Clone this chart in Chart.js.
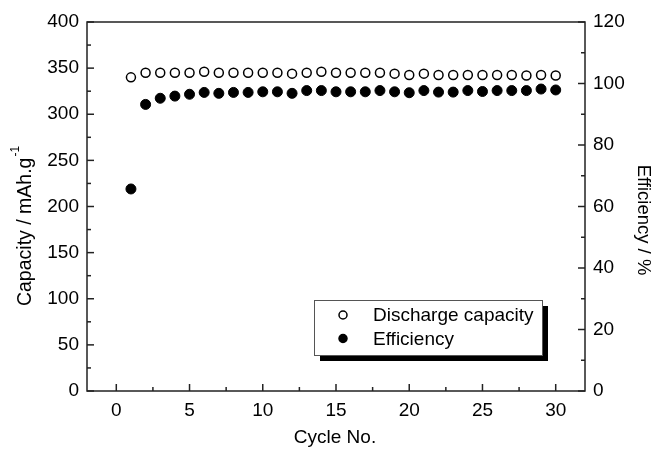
<!DOCTYPE html>
<html>
<head>
<meta charset="utf-8">
<script src="https://cdn.jsdelivr.net/npm/chart.js@4.4.0/dist/chart.umd.min.js"></script>
<style>
  body { margin: 0; background: #fff; }
  #wrap { width: 656px; height: 449px; }
</style>
</head>
<body>
<div id="wrap"><canvas id="cycleChart" width="656" height="449"></canvas></div>
<script>
// values
const cycles = [1, 2, 3, 4, 5, 6, 7, 8, 9, 10, 11, 12, 13, 14, 15,
  16, 17, 18, 19, 20, 21, 22, 23, 24, 25, 26, 27, 28, 29, 30];
const dischargeCapacity = [340, 345, 345, 345, 345, 346, 345, 345, 345, 345, 345, 344, 345, 346, 345,
  345, 345, 345, 344, 342.5, 344, 342.5, 342.5, 342.5, 342.5, 342.5, 342.5, 342, 342.5, 342];
const efficiency = [65.7, 93.2, 95.2, 95.9, 96.5, 97.1, 96.8, 97.1, 97.1, 97.3, 97.3, 96.8, 97.7, 97.7, 97.3,
  97.3, 97.3, 97.7, 97.3, 97.0, 97.7, 97.2, 97.2, 97.7, 97.4, 97.7, 97.7, 97.7, 98.2, 97.9];

const xTicks = [0, 5, 10, 15, 20, 25, 30];
const capacityTicks = [0, 50, 100, 150, 200, 250, 300, 350, 400];
const efficiencyTicks = [0, 20, 40, 60, 80, 100, 120];
const seriesLabels = ['Discharge capacity', 'Efficiency'];

const FONT = '"Liberation Sans", Arial, sans-serif';

const toPoints = (ys) => cycles.map((c, i) => ({ x: c, y: ys[i] }));

// frame + inward ticks (major and minor)
const frameTicks = {
  id: 'frameTicks',
  afterDraw(chart) {
    const { ctx, chartArea: a, scales } = chart;
    ctx.save();
    ctx.strokeStyle = '#222';
    ctx.lineWidth = 1.5;
    ctx.strokeRect(a.left, a.top, a.right - a.left, a.bottom - a.top);

    const line = (x1, y1, x2, y2) => {
      ctx.beginPath(); ctx.moveTo(x1, y1); ctx.lineTo(x2, y2); ctx.stroke();
    };
    const doTicks = (scale, ticks, draw) => {
      const step = ticks[1] - ticks[0];
      ticks.forEach(v => draw(scale.getPixelForValue(v), 7));
      ticks.forEach(v => {
        const m = v + step / 2;
        if (m > scale.min && m < scale.max) draw(scale.getPixelForValue(m), 4);
      });
    };
    doTicks(scales.x, xTicks, (px, len) => line(px, a.bottom, px, a.bottom - len));
    doTicks(scales.y, capacityTicks, (py, len) => line(a.left, py, a.left + len, py));
    doTicks(scales.y2, efficiencyTicks, (py, len) => line(a.right, py, a.right - len, py));
    ctx.restore();
  }
};

// axis titles
const axisTitles = {
  id: 'axisTitles',
  afterDraw(chart) {
    const { ctx } = chart;
    ctx.save();
    ctx.fillStyle = '#000';
    ctx.font = '19px ' + FONT;
    ctx.textAlign = 'center';
    ctx.textBaseline = 'middle';
    ctx.fillText('Cycle No.', 335, 438);

    // left: Capacity / mAh.g^-1
    const main = 'Capacity / mAh.g';
    const sup = '-1';
    ctx.font = '19.5px ' + FONT;
    const wMain = ctx.measureText(main).width;
    ctx.font = '12px ' + FONT;
    const wSup = ctx.measureText(sup).width;
    const total = wMain + wSup + 1;
    ctx.translate(26, 226);
    ctx.rotate(-Math.PI / 2);
    ctx.textAlign = 'left';
    ctx.font = '19.5px ' + FONT;
    ctx.fillText(main, -total / 2, 0);
    ctx.font = '12px ' + FONT;
    ctx.fillText(sup, -total / 2 + wMain + 1, -10);
    ctx.restore();

    ctx.save();
    ctx.fillStyle = '#000';
    ctx.font = '18.5px ' + FONT;
    ctx.textAlign = 'center';
    ctx.textBaseline = 'middle';
    ctx.translate(643, 220);
    ctx.rotate(Math.PI / 2);
    ctx.fillText('Efficiency / %', 0, 0);
    ctx.restore();
  }
};

// boxed legend with drop shadow
const boxLegend = {
  id: 'boxLegend',
  afterDraw(chart) {
    const { ctx, chartArea: a } = chart;
    const left = a.left + 227, top = a.top + 278, w = 228, h = 55;
    ctx.save();
    ctx.fillStyle = '#000';
    ctx.fillRect(left + 6, top + 6, w, h);
    ctx.fillStyle = '#fff';
    ctx.fillRect(left, top, w, h);
    ctx.strokeStyle = '#555';
    ctx.lineWidth = 1;
    ctx.strokeRect(left + 0.5, top + 0.5, w, h);

    ctx.font = '19px ' + FONT;
    ctx.textBaseline = 'middle';
    chart.data.datasets.forEach((ds, i) => {
      const cy = top + 15 + i * 23.5;
      ctx.beginPath();
      ctx.arc(left + 29, cy, 4, 0, Math.PI * 2);
      ctx.fillStyle = ds.pointBackgroundColor;
      ctx.fill();
      ctx.lineWidth = 1.5;
      ctx.strokeStyle = ds.pointBorderColor;
      ctx.stroke();
      ctx.fillStyle = '#000';
      ctx.fillText(ds.label, left + 59, cy + 1);
    });
    ctx.restore();
  }
};

new Chart(document.getElementById('cycleChart'), {
  type: 'scatter',
  data: {
    datasets: [{
      label: seriesLabels[0],
      data: toPoints(dischargeCapacity),
      yAxisID: 'y',
      pointRadius: 4.5,
      pointBorderWidth: 1.5,
      pointBackgroundColor: '#fff',
      pointBorderColor: '#000',
      showLine: false
    }, {
      label: seriesLabels[1],
      data: toPoints(efficiency),
      yAxisID: 'y2',
      pointRadius: 5,
      pointBorderWidth: 1,
      pointBackgroundColor: '#000',
      pointBorderColor: '#000',
      showLine: false
    }]
  },
  options: {
    responsive: false,
    animation: false,
    layout: { padding: { top: 22, left: 0, right: 0, bottom: 0 } },
    plugins: {
      legend: { display: false },
      tooltip: { enabled: false }
    },
    scales: {
      x: {
        type: 'linear',
        min: -2,
        max: 32,
        grid: { display: false, drawTicks: false },
        border: { display: false },
        afterBuildTicks: s => { s.ticks = xTicks.map(v => ({ value: v })); },
        afterFit: s => { s.height = 58; },
        ticks: { padding: 8, color: '#000', font: { family: FONT, size: 19 } }
      },
      y: {
        position: 'left',
        min: 0,
        max: 400,
        grid: { display: false, drawTicks: false },
        border: { display: false },
        afterBuildTicks: s => { s.ticks = capacityTicks.map(v => ({ value: v })); },
        afterFit: s => { s.width = 87; },
        ticks: { padding: 8, color: '#000', font: { family: FONT, size: 19 } }
      },
      y2: {
        position: 'right',
        min: 0,
        max: 120,
        grid: { display: false, drawTicks: false },
        border: { display: false },
        afterBuildTicks: s => { s.ticks = efficiencyTicks.map(v => ({ value: v })); },
        afterFit: s => { s.width = 71; },
        ticks: { padding: 8, color: '#000', font: { family: FONT, size: 19 } }
      }
    }
  },
  plugins: [frameTicks, axisTitles, boxLegend]
});
</script>
</body>
</html>
